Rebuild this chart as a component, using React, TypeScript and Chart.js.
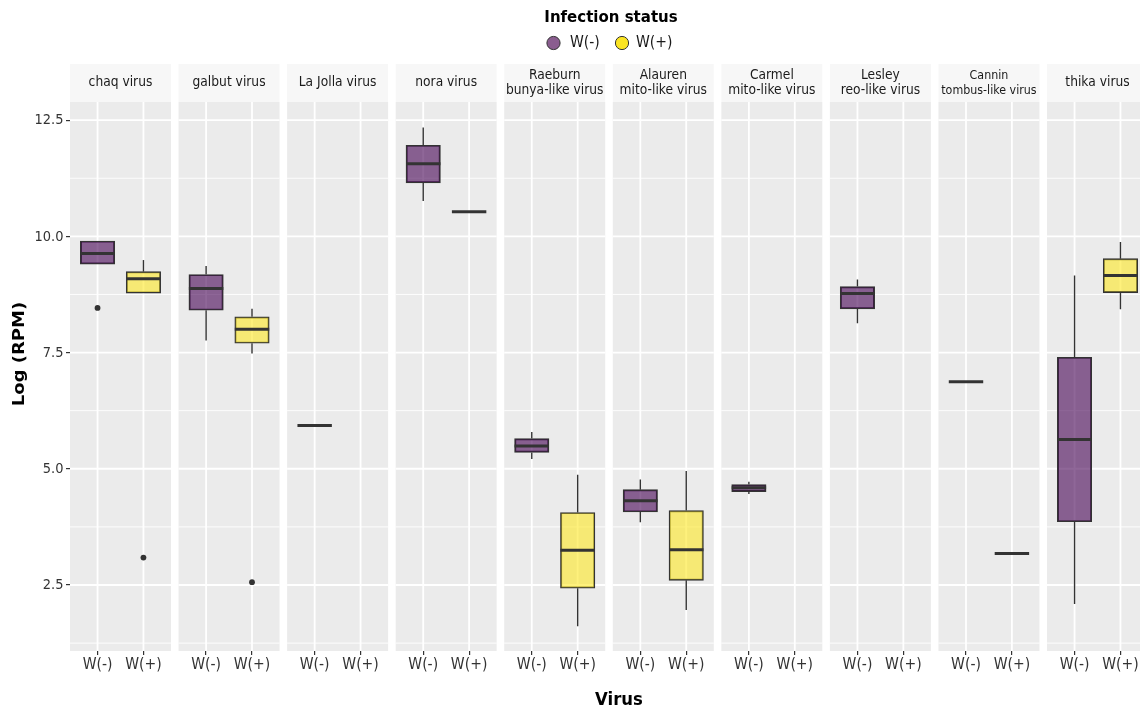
import React, { useEffect, useRef } from 'react';
import { Chart, registerables } from 'chart.js';

Chart.register(...registerables);

// ---------- data ----------
const viruses = [
  'chaq virus',
  'galbut virus',
  'La Jolla virus',
  'nora virus',
  'Raeburn\nbunya-like virus',
  'Alauren\nmito-like virus',
  'Carmel\nmito-like virus',
  'Lesley\nreo-like virus',
  'Cannin\ntombus-like virus',
  'thika virus',
];
const groups = ['W(-)', 'W(+)'];
const yTickValues = [2.5, 5, 7.5, 10, 12.5];
const yMinorValues = [1.25, 3.75, 6.25, 8.75, 11.25];

// W(-) box statistics (Log RPM)
const negLow = [9.4, 7.76, 5.93, 10.76, 5.21, 3.85, 4.46, 8.13, 6.87, 2.09];
const negQ1 = [9.4, 8.41, 5.93, 11.15, 5.35, 4.07, 4.51, 8.44, 6.87, 3.86];
const negMed = [9.63, 8.88, 5.93, 11.56, 5.49, 4.31, 4.59, 8.77, 6.87, 5.63];
const negQ3 = [9.9, 9.18, 5.93, 11.96, 5.65, 4.55, 4.66, 8.92, 6.87, 7.4];
const negHigh = [9.9, 9.36, 5.93, 12.34, 5.79, 4.77, 4.72, 9.07, 6.87, 9.16];
const negOutliers = [[8.46], [], [], [], [], [], [], [], [], []];

// W(+) box statistics (Log RPM)
const posLow = [8.78, 7.48, null, 10.53, 1.61, 1.96, null, null, 3.18, 8.43];
const posQ1 = [8.78, 7.7, null, 10.53, 2.43, 2.6, null, null, 3.18, 8.79];
const posMed = [9.09, 8.0, null, 10.53, 3.25, 3.26, null, null, 3.18, 9.16];
const posQ3 = [9.24, 8.27, null, 10.53, 4.06, 4.1, null, null, 3.18, 9.52];
const posHigh = [9.49, 8.44, null, 10.53, 4.87, 4.95, null, null, 3.18, 9.88];
const posOutliers = [[3.09], [2.56], [], [], [], [], [], [], [], []];

// ---------- style / layout ----------
const PANEL_W = 2.2;
const PANEL_GAP = 0.165;
const STRIDE = PANEL_W + PANEL_GAP;
const X_MAX = viruses.length * PANEL_W + (viruses.length - 1) * PANEL_GAP;
const CANVAS_W = 1218;
const CANVAS_H = 709;
const AREA_LEFT = 70;
const AREA_RIGHT = 1148;
const AREA_TOP = 102;
const AREA_BOTTOM = 651;
const STRIP_TOP = 64;
const BOX_W = 0.75;
const PX_PER_UNIT = (AREA_RIGHT - AREA_LEFT) / X_MAX;
const FONT = '"DejaVu Sans", sans-serif';
const DARK = '#333333';
const TEXT_SY = 1.09;
const FILLS = ['rgba(68,1,84,0.6)', 'rgba(253,231,37,0.6)'];
const LEGEND_FILLS = ['#8a5d8f', '#fbe422'];
const stripFontSize = [12.3, 12.3, 12.3, 12.3, 12.3, 12.3, 12.3, 12.3, 11.1, 12.3];

const xPos = (p: number, g: number) => p * STRIDE + 0.6 + g;

const series = [
  { label: groups[0], low: negLow, q1: negQ1, med: negMed, q3: negQ3, high: negHigh, out: negOutliers },
  { label: groups[1], low: posLow, q1: posQ1, med: posMed, q3: posQ3, high: posHigh, out: posOutliers },
];

function stext(ctx: CanvasRenderingContext2D, txt: string, x: number, y: number, font: string, align: CanvasTextAlign, color: string) {
  ctx.save();
  ctx.translate(x, y);
  ctx.scale(1, TEXT_SY);
  ctx.font = font;
  ctx.textAlign = align;
  ctx.textBaseline = 'middle';
  ctx.fillStyle = color;
  ctx.fillText(txt, 0, 0);
  ctx.restore();
}

const facetPlugin = {
  id: 'facets',
  beforeDatasetsDraw(chart: any) {
    const { ctx, chartArea, scales } = chart;
    const x = scales.x;
    const y = scales.y;
    ctx.save();
    viruses.forEach((_, p) => {
      const l = x.getPixelForValue(p * STRIDE);
      const r = x.getPixelForValue(p * STRIDE + PANEL_W);
      ctx.fillStyle = '#ebebeb';
      ctx.fillRect(l, chartArea.top, r - l, chartArea.bottom - chartArea.top);
      ctx.strokeStyle = '#ffffff';
      ctx.lineWidth = 0.9;
      yMinorValues.forEach((v) => {
        const py = y.getPixelForValue(v);
        ctx.beginPath();
        ctx.moveTo(l, py);
        ctx.lineTo(r, py);
        ctx.stroke();
      });
      ctx.lineWidth = 1.8;
      yTickValues.forEach((v) => {
        const py = y.getPixelForValue(v);
        ctx.beginPath();
        ctx.moveTo(l, py);
        ctx.lineTo(r, py);
        ctx.stroke();
      });
      groups.forEach((_, g) => {
        const px = x.getPixelForValue(xPos(p, g));
        ctx.beginPath();
        ctx.moveTo(px, chartArea.top);
        ctx.lineTo(px, chartArea.bottom);
        ctx.stroke();
      });
      ctx.fillStyle = '#f7f7f7';
      ctx.fillRect(l, STRIP_TOP, r - l, chartArea.top - STRIP_TOP);
    });
    ctx.restore();
  },
  afterDatasetsDraw(chart: any) {
    const { ctx, scales } = chart;
    const x = scales.x;
    const y = scales.y;
    ctx.save();
    ctx.strokeStyle = DARK;
    series.forEach((s, g) => {
      viruses.forEach((_, p) => {
        if (s.med[p] == null) return;
        const c = xPos(p, g);
        const cx = x.getPixelForValue(c);
        const l = x.getPixelForValue(c - BOX_W / 2);
        const r = x.getPixelForValue(c + BOX_W / 2);
        ctx.lineWidth = 1.4;
        ctx.beginPath();
        ctx.moveTo(cx, y.getPixelForValue(s.high[p] as number));
        ctx.lineTo(cx, y.getPixelForValue(s.q3[p] as number));
        ctx.moveTo(cx, y.getPixelForValue(s.q1[p] as number));
        ctx.lineTo(cx, y.getPixelForValue(s.low[p] as number));
        ctx.stroke();
        ctx.lineWidth = 3;
        ctx.beginPath();
        const my = y.getPixelForValue(s.med[p] as number);
        ctx.moveTo(l, my);
        ctx.lineTo(r, my);
        ctx.stroke();
      });
    });
    ctx.restore();
  },
  afterDraw(chart: any) {
    const { ctx, chartArea, scales } = chart;
    const x = scales.x;
    const y = scales.y;
    ctx.save();
    // tick labels
    viruses.forEach((_, p) => {
      groups.forEach((gname, g) => {
        stext(ctx, gname, x.getPixelForValue(xPos(p, g)), chartArea.bottom + 14, `14px ${FONT}`, 'center', '#333333');
      });
    });
    yTickValues.forEach((v) => {
      stext(ctx, v.toFixed(1), AREA_LEFT - 6.5, y.getPixelForValue(v) + 0.5, `13px ${FONT}`, 'right', '#333333');
    });
    // strip labels
    viruses.forEach((name, p) => {
      const cxp = x.getPixelForValue(p * STRIDE + PANEL_W / 2);
      const f = `${stripFontSize[p]}px ${FONT}`;
      const lines = name.split('\n');
      if (lines.length === 1) {
        stext(ctx, lines[0], cxp, 82.5, f, 'center', '#1a1a1a');
      } else {
        stext(ctx, lines[0], cxp, 76, f, 'center', '#1a1a1a');
        stext(ctx, lines[1], cxp, 90.5, f, 'center', '#1a1a1a');
      }
    });
    // legend
    stext(ctx, 'Infection status', 611, 17.5, `bold 15px ${FONT}`, 'center', '#000000');
    const legendCircleX = [553.5, 622];
    const legendTextX = [570, 636];
    groups.forEach((gname, g) => {
      ctx.beginPath();
      ctx.arc(legendCircleX[g], 43, 6.6, 0, Math.PI * 2);
      ctx.fillStyle = LEGEND_FILLS[g];
      ctx.fill();
      ctx.lineWidth = 1;
      ctx.strokeStyle = DARK;
      ctx.stroke();
      stext(ctx, gname, legendTextX[g], 43, `14px ${FONT}`, 'left', '#1a1a1a');
    });
    // axis titles
    stext(ctx, 'Virus', 619, 700, `bold 16.5px ${FONT}`, 'center', '#000000');
    ctx.save();
    ctx.translate(20, 354);
    ctx.scale(1, TEXT_SY);
    ctx.rotate(-Math.PI / 2);
    ctx.font = `bold 16.5px ${FONT}`;
    ctx.textAlign = 'center';
    ctx.textBaseline = 'middle';
    ctx.fillStyle = '#000000';
    ctx.fillText('Log (RPM)', 0, 0);
    ctx.restore();
    ctx.restore();
  },
};

export default function App() {
  const ref = useRef<HTMLCanvasElement>(null);
  useEffect(() => {
    document.body.style.margin = '0';
    Chart.defaults.font.family = FONT;
    const barSets = series.map((s, g) => ({
      type: 'bar' as const,
      label: s.label,
      data: viruses
        .map((_, p) => (s.q1[p] == null ? null : { x: xPos(p, g), y: [s.q1[p], s.q3[p]] }))
        .filter((d) => d !== null),
      backgroundColor: FILLS[g],
      borderColor: DARK,
      borderWidth: 1.3,
      borderSkipped: false,
      barThickness: BOX_W * PX_PER_UNIT,
      grouped: false,
    }));
    const outlierSets = series.map((s, g) => ({
      type: 'scatter' as const,
      label: s.label + ' outliers',
      data: viruses.flatMap((_, p) => s.out[p].map((v) => ({ x: xPos(p, g), y: v }))),
      pointRadius: 2.9,
      pointBackgroundColor: DARK,
      pointBorderWidth: 0,
      showLine: false,
    }));
    const chart = new Chart(ref.current as HTMLCanvasElement, {
      type: 'bar',
      data: { datasets: [...barSets, ...outlierSets] as any },
      plugins: [facetPlugin],
      options: {
        animation: false,
        responsive: false,
        devicePixelRatio: 1,
        events: [],
        layout: { padding: { top: AREA_TOP, right: CANVAS_W - AREA_RIGHT, left: 0, bottom: 0 } },
        plugins: { legend: { display: false }, tooltip: { enabled: false }, title: { display: false } },
        scales: {
          x: {
            type: 'linear',
            min: 0,
            max: X_MAX,
            offset: false,
            border: { display: false },
            grid: { drawOnChartArea: false, drawTicks: true, tickLength: 4, tickColor: DARK, lineWidth: 1.2, offset: false },
            afterBuildTicks: (scale: any) => {
              scale.ticks = viruses.flatMap((_, p) => groups.map((__, g) => ({ value: xPos(p, g) })));
            },
            afterFit: (scale: any) => {
              scale.height = CANVAS_H - AREA_BOTTOM;
            },
            ticks: { display: false, autoSkip: false, maxRotation: 0 },
          },
          y: {
            type: 'linear',
            min: 1.08,
            max: 12.89,
            beginAtZero: false,
            border: { display: false },
            grid: { drawOnChartArea: false, drawTicks: true, tickLength: 4, tickColor: DARK, lineWidth: 1.2 },
            afterBuildTicks: (scale: any) => {
              scale.ticks = yTickValues.map((v) => ({ value: v }));
            },
            afterFit: (scale: any) => {
              scale.width = AREA_LEFT;
            },
            ticks: { display: false },
          },
        },
      } as any,
    });
    return () => chart.destroy();
  }, []);
  return (
    <div style={{ width: 1140, height: CANVAS_H, overflow: 'hidden', position: 'relative', background: '#ffffff' }}>
      <canvas
        ref={ref}
        width={CANVAS_W}
        height={CANVAS_H}
        style={{ display: 'block', width: CANVAS_W, height: CANVAS_H }}
      />
    </div>
  );
}
